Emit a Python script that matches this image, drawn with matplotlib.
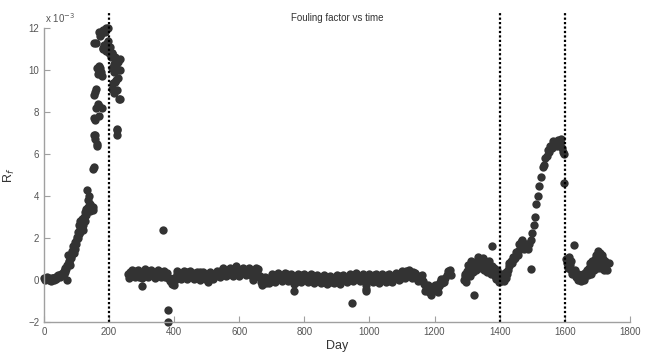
import matplotlib
matplotlib.use("Agg")
import matplotlib.pyplot as plt

plt.rcParams['font.family'] = ['Liberation Sans', 'DejaVu Sans']

# fouling factor, values in units of 1e-3
# rise before first cleaning (day 0-155)
day_a = [0, 5, 10, 15, 20, 25, 28, 32, 36, 40, 45, 50, 55, 58, 60, 63, 65, 68, 70, 72,
         74, 76, 78, 82, 84, 86, 88, 90, 93, 95, 98, 100, 102, 104, 106, 108, 110, 112, 115, 118,
         121, 123, 125, 128, 130, 132, 134, 136, 138, 140, 145, 148, 152,
         2, 8, 14, 22, 30, 38, 42, 48, 52, 62, 66, 80, 92, 96, 105, 112, 116, 120, 126, 130,
         142, 150]
rf_a = [0.10, 0.12, 0.05, 0.00, 0.02, 0.08, 0.10, 0.12, 0.15, 0.18, 0.20, 0.25, 0.30, 0.35, 0.45, 0.50, 0.60, 0.55, 0.00, 0.70,
        1.20, 0.85, 0.90, 1.05, 1.15, 1.40, 1.30, 1.60, 1.55, 1.80, 1.70, 2.05, 1.95, 2.30, 2.20, 2.60, 2.80, 2.55, 2.50, 2.90,
        2.40, 3.00, 3.25, 3.10, 3.40, 4.30, 3.80, 3.50, 4.00, 3.60, 3.40, 3.50, 3.35,
        0.00, 0.15, 0.10, -0.05, 0.00, 0.05, 0.25, 0.15, 0.30, 0.30, 0.40, 0.70, 1.30, 1.50, 2.00, 2.30, 2.80, 2.60, 2.80, 3.20,
        3.30, 3.50]

# peak around first cleaning (day 150-235)
day_b = [151, 153, 154, 154, 155, 155, 156, 157, 157, 158, 160, 160, 161, 162, 162, 163, 165, 166, 167, 168,
         168, 170, 170, 172, 172, 174, 176, 177, 177, 180, 182, 182, 184, 186, 188, 188, 190, 192, 192, 194,
         196, 198, 198, 200, 200, 203, 206, 208, 208, 210, 210, 212, 214, 215, 216, 218, 218, 220, 222, 224,
         224, 224, 224, 226, 228, 228, 230, 232, 234, 234]
rf_b = [5.30, 5.40, 11.30, 8.80, 7.70, 6.90, 6.70, 8.95, 6.90, 7.60, 11.30, 8.20, 9.10, 6.40, 6.50, 10.10, 9.80, 8.40, 8.30, 10.20,
        11.80, 8.30, 7.80, 11.60, 10.10, 9.90, 11.70, 9.70, 8.20, 11.00, 11.90, 11.05, 11.20, 11.80, 11.90, 11.10, 10.90, 12.00, 10.95, 11.30,
        11.40, 11.00, 12.00, 11.10, 10.80, 11.10, 10.60, 10.80, 10.80, 10.10, 9.10, 9.40, 8.90, 10.30, 9.90, 10.60, 9.45, 10.15, 9.50, 9.05,
        7.20, 6.90, 7.15, 9.60, 10.40, 10.00, 8.60, 10.00, 10.50, 8.60]

# long flat stretch (day 258-1250)
day_c = [258, 263, 268, 273, 278, 283, 288, 293, 298, 301,
         303, 308, 313, 318, 323, 328, 333, 338, 343, 348,
         353, 358, 363, 366, 368, 373, 378, 381, 381, 383,
         388, 393, 398, 403, 408, 413, 418, 423, 428, 433,
         438, 443, 448, 453, 458, 463, 468, 473, 478, 483,
         488, 493, 498, 503, 508, 513, 518, 523, 528, 533,
         538, 543, 548, 553, 558, 563, 568, 573, 578, 583,
         588, 593, 598, 603, 608, 613, 618, 623, 628, 633,
         638, 643, 648, 653, 658, 663, 668, 673, 678, 683,
         688, 693, 698, 703, 708, 713, 718, 723, 728, 733,
         738, 743, 748, 753, 758, 763, 767, 768, 773, 778,
         783, 788, 793, 798, 803, 808, 813, 818, 823, 828,
         833, 838, 843, 848, 853, 858, 863, 868, 873, 878,
         883, 888, 893, 898, 903, 908, 913, 918, 923, 928,
         933, 938, 943, 947, 948, 953, 958, 963, 968, 973,
         978, 983, 988, 990, 993, 998, 1003, 1008, 1013, 1018,
         1023, 1028, 1033, 1038, 1043, 1048, 1053, 1058, 1063, 1068,
         1073, 1078, 1083, 1088, 1093, 1098, 1103, 1108, 1113, 1118,
         1123, 1128, 1133, 1138, 1143, 1148, 1153, 1158, 1163, 1168,
         1173, 1178, 1183, 1188, 1193, 1198, 1203, 1208, 1213, 1218,
         1223, 1228, 1233, 1238, 1243, 1248]
rf_c = [0.30, 0.40, 0.25, 0.35, 0.20, 0.45, 0.30, 0.15, 0.35, -0.30,
        0.25, 0.40, 0.30, 0.20, 0.35, 0.45, 0.25, 0.30, 0.40, 0.20,
        0.35, 0.25, 0.40, 2.40, 0.30, 0.15, 0.35, -1.40, -2.00, 0.10,
        -0.05, -0.20, 0.10, 0.00, 0.30, 0.20, 0.35, 0.25, 0.15, 0.30,
        0.40, 0.20, 0.30, 0.25, 0.35, 0.15, 0.30, 0.20, 0.40, 0.25,
        0.10, 0.30, 0.20, -0.10, 0.05, 0.20, 0.30, 0.15, 0.35, 0.25,
        0.40, 0.30, 0.50, 0.35, 0.45, 0.25, 0.40, 0.55, 0.30, 0.45,
        0.35, 0.50, 0.40, 0.30, 0.55, 0.45, 0.35, 0.50, 0.40, 0.30,
        0.45, 0.00, 0.50, 0.35, 0.55, 0.20, -0.10, -0.05, 0.05, -0.15,
        0.05, -0.05, 0.15, 0.00, 0.10, 0.20, 0.05, 0.25, 0.10, 0.15,
        0.20, 0.05, 0.30, 0.10, 0.15, 0.00, -0.50, -0.20, 0.05, 0.20,
        0.10, 0.25, 0.00, 0.15, 0.05, 0.20, -0.05, 0.10, 0.25, 0.05,
        0.15, -0.05, 0.00, 0.10, -0.10, 0.05, 0.15, -0.05, 0.00, 0.10,
        -0.10, 0.05, 0.15, 0.00, 0.10, -0.05, 0.20, 0.05, 0.10, 0.00,
        0.15, 0.05, 0.10, -1.10, 0.20, 0.05, 0.25, 0.10, 0.15, 0.00,
        0.20, 0.05, -0.50, -0.25, 0.10, 0.20, 0.00, 0.15, 0.25, 0.05,
        0.10, -0.05, 0.20, 0.05, 0.15, 0.00, 0.25, 0.10, -0.05, 0.15,
        0.05, 0.20, 0.10, 0.25, 0.05, 0.15, 0.30, 0.20, 0.45, 0.25,
        0.35, 0.20, 0.40, 0.15, 0.10, 0.20, 0.05, 0.15, -0.05, -0.20,
        -0.35, -0.45, -0.55, -0.60, -0.50, -0.40, -0.45, -0.25, -0.30, -0.10,
        -0.15, 0.05, 0.10, 0.25, 0.35, 0.50]

# extra readings in the flat stretch (band spread)
day_c2 = [260, 270, 280, 290, 300, 310, 320, 330, 340, 350,
          360, 370, 380, 390, 400, 410, 420, 430, 440, 450,
          460, 470, 480, 490, 500, 510, 520, 530, 540, 550,
          560, 570, 580, 590, 600, 610, 620, 630, 640, 650,
          660, 670, 680, 690, 700, 710, 720, 730, 740, 750,
          760, 770, 780, 790, 800, 810, 820, 830, 840, 850,
          860, 870, 880, 890, 900, 910, 920, 930, 940, 950,
          960, 970, 980, 990, 1000, 1010, 1020, 1030, 1040, 1050,
          1060, 1070, 1080, 1090, 1100, 1110, 1120, 1130, 1140, 1150,
          1160, 1170, 1180, 1190, 1200, 1210, 1220, 1230, 1240, 1250]
rf_c2 = [0.10, 0.50, 0.15, 0.50, 0.10, 0.55, 0.15, 0.50, 0.10, 0.50,
         0.15, 0.45, 0.10, 0.05, -0.25, 0.45, 0.05, 0.45, 0.05, 0.45,
         0.05, 0.40, 0.00, 0.40, 0.00, 0.40, 0.05, 0.45, 0.15, 0.60,
         0.20, 0.60, 0.20, 0.65, 0.20, 0.60, 0.25, 0.60, 0.20, 0.60,
         0.15, -0.25, 0.15, -0.15, 0.30, -0.10, 0.35, -0.05, 0.35, -0.05,
         0.30, -0.15, 0.30, -0.10, 0.30, -0.10, 0.30, -0.15, 0.25, -0.15,
         0.25, -0.20, 0.20, -0.15, 0.25, -0.20, 0.25, -0.10, 0.30, -0.05,
         0.35, -0.05, 0.30, -0.40, 0.30, -0.10, 0.30, -0.15, 0.30, -0.10,
         0.30, -0.10, 0.35, 0.00, 0.45, 0.10, 0.50, 0.10, 0.35, -0.05,
         0.25, -0.50, -0.25, -0.70, -0.25, -0.55, 0.05, -0.10, 0.45, 0.25]

# second rise (day 1290-1600)
day_d = [1290, 1295, 1300, 1305, 1310, 1315, 1320, 1322, 1325, 1330,
         1335, 1340, 1345, 1350, 1355, 1360, 1365, 1370, 1375, 1378,
         1380, 1385, 1390, 1395, 1400, 1405, 1410, 1415, 1420, 1425,
         1430, 1435, 1440, 1445, 1450, 1455, 1460, 1465, 1470, 1475,
         1480, 1485, 1490, 1495, 1496, 1500, 1505, 1510, 1513, 1518,
         1522, 1527, 1532, 1536, 1540, 1545, 1548, 1552, 1555, 1560,
         1565, 1570, 1575, 1580, 1585, 1588, 1592, 1595, 1597, 1599,
         1292, 1298, 1302, 1308, 1312, 1318, 1328, 1332, 1338, 1342,
         1348, 1352, 1358, 1362, 1368, 1372, 1382, 1388, 1392, 1398,
         1402, 1408, 1412, 1418, 1422, 1428, 1438, 1448, 1458, 1468,
         1478, 1488]
rf_d = [0.00, 0.20, 0.45, 0.35, 0.60, 0.50, 0.80, -0.70, 0.70, 0.90,
        0.75, 1.00, 0.85, 0.70, 0.90, 0.60, 0.75, 0.50, 0.65, 1.60,
        0.40, 0.20, 0.30, 0.05, 0.20, -0.05, 0.15, 0.30, 0.10, 0.50,
        0.80, 0.90, 1.10, 1.00, 1.35, 1.20, 1.70, 1.80, 1.60, 1.50,
        1.55, 1.70, 1.70, 1.90, 0.55, 2.25, 2.60, 3.00, 3.60, 4.00,
        4.50, 4.90, 5.40, 5.50, 5.80, 5.90, 6.20, 6.10, 6.40, 6.30,
        6.60, 6.50, 6.40, 6.65, 6.50, 6.70, 6.30, 6.10, 4.60, 6.00,
        0.30, -0.10, 0.70, 0.20, 0.90, 0.40, 0.50, 1.10, 0.60, 0.80,
        1.05, 0.50, 0.80, 0.40, 0.90, 0.30, 0.60, 0.05, 0.50, -0.10,
        0.05, 0.30, -0.05, 0.40, 0.30, 0.65, 0.80, 1.05, 1.45, 1.90,
        1.70, 1.50]

# after second cleaning (day 1605-1735)
day_e = [1605, 1608, 1612, 1615, 1620, 1625, 1627, 1630, 1635, 1640,
         1645, 1650, 1655, 1660, 1665, 1670, 1675, 1680, 1685, 1690,
         1695, 1700, 1703, 1706, 1710, 1715, 1720, 1725, 1730, 1735,
         1610, 1618, 1622, 1632, 1638, 1642, 1648, 1652, 1658, 1662,
         1668, 1672, 1678, 1682, 1688, 1692, 1698, 1702, 1708, 1712,
         1718, 1722, 1728]
rf_e = [1.00, 0.80, 1.10, 0.70, 0.50, 0.40, 1.65, 0.30, 0.15, 0.00,
        0.20, -0.05, 0.30, 0.10, 0.40, 0.25, 0.60, 0.30, 0.90, 0.50,
        1.20, 0.80, 1.40, 1.00, 0.60, 1.20, 0.70, 0.90, 0.50, 0.80,
        0.60, 0.90, 0.30, 0.50, 0.20, 0.30, 0.10, 0.20, 0.00, 0.35,
        0.50, 0.40, 0.80, 0.50, 0.70, 1.00, 1.10, 0.60, 1.30, 0.90,
        1.00, 0.50, 0.70]

cleaning_days = [200, 1400, 1600]

fig = plt.figure(figsize=(6.52, 3.54), dpi=100)
ax = fig.add_axes([0.0675, 0.09, 0.8985, 0.831])

days = day_a + day_b + day_c + day_c2 + day_d + day_e
rf = rf_a + rf_b + rf_c + rf_c2 + rf_d + rf_e
ax.plot(days, rf, 'o', color='#333333', markersize=6, markeredgewidth=0, clip_on=False)

for d in cleaning_days:
    ax.plot([d, d], [-2, 12.7], color='black', linestyle=(0, (1, 1)), linewidth=1.6, clip_on=False)

ax.set_xlim(0, 1800)
ax.set_ylim(-2, 12)
ax.set_xticks(range(0, 1801, 200))
ax.set_yticks(range(-2, 13, 2))

for side in ['top', 'right']:
    ax.spines[side].set_visible(False)
for side in ['left', 'bottom']:
    ax.spines[side].set_color('#a0a0a0')
    ax.spines[side].set_linewidth(1.0)
ax.tick_params(direction='in', length=4, color='#a0a0a0', labelcolor='#555555', labelsize=7)

ax.set_title('Fouling factor vs time', fontsize=7, color='#333333', pad=5)
ax.set_xlabel('Day', fontsize=9, color='#333333', labelpad=2)
ax.set_ylabel('R$_f$', fontsize=9, color='#333333', labelpad=8)
ax.text(0.002, 1.01, 'x 10$^{-3}$', transform=ax.transAxes, fontsize=7, color='#555555', va='bottom')

fig.savefig('out.png', dpi=100)
